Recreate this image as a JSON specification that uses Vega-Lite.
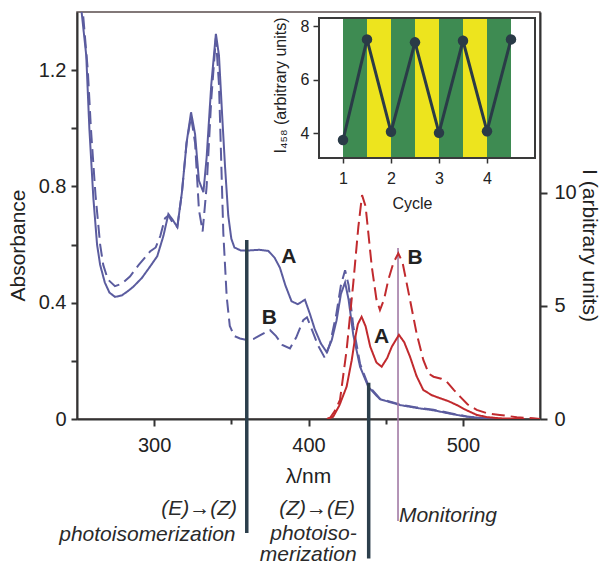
{
  "$schema": "https://vega.github.io/schema/vega-lite/v6.json",
  "width": 463,
  "height": 407,
  "autosize": {"type": "none"},
  "padding": {"left": 77, "top": 12, "right": 61, "bottom": 147},
  "background": "white",
  "config": {
    "font": "Liberation Sans",
    "view": {"stroke": "#5a4c4c", "strokeWidth": 1.5},
    "axis": {
      "grid": false,
      "domainColor": "#333333",
      "domainWidth": 2,
      "tickColor": "#333333",
      "tickWidth": 2,
      "labelColor": "#222222",
      "titleColor": "#222222",
      "labelFontSize": 20,
      "titleFontSize": 21,
      "titleFontWeight": "normal",
      "labelFont": "Liberation Sans",
      "titleFont": "Liberation Sans"
    }
  },
  "datasets": {
    "absorbance": [
      {"nm": 252, "abs": 1.45, "sample": "A"}, {"nm": 256, "abs": 1.25, "sample": "A"}, {"nm": 258, "abs": 1.0, "sample": "A"},
      {"nm": 260.6, "abs": 0.76, "sample": "A"}, {"nm": 263, "abs": 0.6, "sample": "A"}, {"nm": 265, "abs": 0.53, "sample": "A"},
      {"nm": 268, "abs": 0.47, "sample": "A"}, {"nm": 271, "abs": 0.435, "sample": "A"}, {"nm": 274.6, "abs": 0.42, "sample": "A"},
      {"nm": 279, "abs": 0.425, "sample": "A"}, {"nm": 283, "abs": 0.44, "sample": "A"}, {"nm": 286.5, "abs": 0.455, "sample": "A"},
      {"nm": 292, "abs": 0.485, "sample": "A"}, {"nm": 297.3, "abs": 0.524, "sample": "A"}, {"nm": 302, "abs": 0.56, "sample": "A"},
      {"nm": 306, "abs": 0.63, "sample": "A"}, {"nm": 309.2, "abs": 0.705, "sample": "A"}, {"nm": 312, "abs": 0.685, "sample": "A"},
      {"nm": 315, "abs": 0.66, "sample": "A"}, {"nm": 318, "abs": 0.78, "sample": "A"}, {"nm": 321, "abs": 0.95, "sample": "A"},
      {"nm": 323.9, "abs": 1.055, "sample": "A"}, {"nm": 326.5, "abs": 0.98, "sample": "A"}, {"nm": 329, "abs": 0.82, "sample": "A"},
      {"nm": 331.9, "abs": 0.78, "sample": "A"}, {"nm": 334, "abs": 0.9, "sample": "A"}, {"nm": 337, "abs": 1.15, "sample": "A"},
      {"nm": 340, "abs": 1.325, "sample": "A"}, {"nm": 342, "abs": 1.25, "sample": "A"}, {"nm": 344, "abs": 1.05, "sample": "A"},
      {"nm": 345.9, "abs": 0.87, "sample": "A"}, {"nm": 348, "abs": 0.7, "sample": "A"}, {"nm": 350, "abs": 0.62, "sample": "A"},
      {"nm": 352, "abs": 0.59, "sample": "A"}, {"nm": 356, "abs": 0.58, "sample": "A"}, {"nm": 362, "abs": 0.58, "sample": "A"},
      {"nm": 368, "abs": 0.582, "sample": "A"}, {"nm": 374, "abs": 0.578, "sample": "A"}, {"nm": 378, "abs": 0.555, "sample": "A"},
      {"nm": 381.5, "abs": 0.52, "sample": "A"}, {"nm": 385, "abs": 0.46, "sample": "A"}, {"nm": 389, "abs": 0.405, "sample": "A"},
      {"nm": 393, "abs": 0.395, "sample": "A"}, {"nm": 397.7, "abs": 0.41, "sample": "A"}, {"nm": 401, "abs": 0.36, "sample": "A"},
      {"nm": 404, "abs": 0.31, "sample": "A"}, {"nm": 408, "abs": 0.26, "sample": "A"}, {"nm": 411.8, "abs": 0.23, "sample": "A"},
      {"nm": 415, "abs": 0.27, "sample": "A"}, {"nm": 418.2, "abs": 0.34, "sample": "A"}, {"nm": 421, "abs": 0.43, "sample": "A"},
      {"nm": 423.7, "abs": 0.47, "sample": "A"}, {"nm": 426, "abs": 0.41, "sample": "A"}, {"nm": 429, "abs": 0.29, "sample": "A"},
      {"nm": 433.4, "abs": 0.18, "sample": "A"}, {"nm": 438.8, "abs": 0.11, "sample": "A"}, {"nm": 446.3, "abs": 0.068, "sample": "A"},
      {"nm": 459.3, "abs": 0.048, "sample": "A"}, {"nm": 470, "abs": 0.038, "sample": "A"}, {"nm": 481, "abs": 0.03, "sample": "A"},
      {"nm": 492, "abs": 0.018, "sample": "A"}, {"nm": 502.5, "abs": 0.008, "sample": "A"}, {"nm": 515, "abs": 0.002, "sample": "A"},
      {"nm": 525, "abs": 0, "sample": "A"},
      {"nm": 253, "abs": 1.45, "sample": "B"}, {"nm": 257, "abs": 1.2, "sample": "B"}, {"nm": 259, "abs": 1.0, "sample": "B"},
      {"nm": 262, "abs": 0.77, "sample": "B"}, {"nm": 265, "abs": 0.6, "sample": "B"}, {"nm": 267, "abs": 0.53, "sample": "B"},
      {"nm": 270, "abs": 0.48, "sample": "B"}, {"nm": 274.6, "abs": 0.457, "sample": "B"}, {"nm": 279, "abs": 0.465, "sample": "B"},
      {"nm": 284.3, "abs": 0.49, "sample": "B"}, {"nm": 290, "abs": 0.53, "sample": "B"}, {"nm": 297.3, "abs": 0.576, "sample": "B"},
      {"nm": 301, "abs": 0.59, "sample": "B"}, {"nm": 304, "abs": 0.63, "sample": "B"}, {"nm": 307, "abs": 0.69, "sample": "B"},
      {"nm": 309.2, "abs": 0.7, "sample": "B"}, {"nm": 312, "abs": 0.675, "sample": "B"}, {"nm": 315, "abs": 0.66, "sample": "B"},
      {"nm": 318, "abs": 0.78, "sample": "B"}, {"nm": 321, "abs": 0.95, "sample": "B"}, {"nm": 323.9, "abs": 1.04, "sample": "B"},
      {"nm": 326.5, "abs": 0.95, "sample": "B"}, {"nm": 329, "abs": 0.72, "sample": "B"}, {"nm": 331.4, "abs": 0.645, "sample": "B"},
      {"nm": 334, "abs": 0.8, "sample": "B"}, {"nm": 337, "abs": 1.1, "sample": "B"}, {"nm": 340, "abs": 1.31, "sample": "B"},
      {"nm": 342, "abs": 1.15, "sample": "B"}, {"nm": 344.8, "abs": 0.64, "sample": "B"}, {"nm": 347, "abs": 0.42, "sample": "B"},
      {"nm": 349, "abs": 0.32, "sample": "B"}, {"nm": 352, "abs": 0.285, "sample": "B"}, {"nm": 355.6, "abs": 0.277, "sample": "B"},
      {"nm": 360, "abs": 0.272, "sample": "B"}, {"nm": 364.2, "abs": 0.275, "sample": "B"}, {"nm": 370, "abs": 0.292, "sample": "B"},
      {"nm": 375, "abs": 0.306, "sample": "B"}, {"nm": 379, "abs": 0.285, "sample": "B"}, {"nm": 383, "abs": 0.255, "sample": "B"},
      {"nm": 388, "abs": 0.243, "sample": "B"}, {"nm": 392, "abs": 0.28, "sample": "B"}, {"nm": 396.6, "abs": 0.34, "sample": "B"},
      {"nm": 399, "abs": 0.35, "sample": "B"}, {"nm": 402, "abs": 0.31, "sample": "B"}, {"nm": 406, "abs": 0.255, "sample": "B"},
      {"nm": 410.7, "abs": 0.209, "sample": "B"}, {"nm": 414, "abs": 0.26, "sample": "B"}, {"nm": 418, "abs": 0.36, "sample": "B"},
      {"nm": 421, "abs": 0.46, "sample": "B"}, {"nm": 423.7, "abs": 0.512, "sample": "B"}, {"nm": 426, "abs": 0.46, "sample": "B"},
      {"nm": 429, "abs": 0.32, "sample": "B"}, {"nm": 433.4, "abs": 0.19, "sample": "B"}, {"nm": 438.8, "abs": 0.115, "sample": "B"},
      {"nm": 446.3, "abs": 0.07, "sample": "B"}, {"nm": 459.3, "abs": 0.05, "sample": "B"}, {"nm": 470, "abs": 0.04, "sample": "B"},
      {"nm": 481, "abs": 0.032, "sample": "B"}, {"nm": 492, "abs": 0.02, "sample": "B"}, {"nm": 502.5, "abs": 0.009, "sample": "B"},
      {"nm": 515, "abs": 0.002, "sample": "B"}, {"nm": 525, "abs": 0, "sample": "B"}
    ],
    "emission": [
      {"nm": 412, "intensity": 0, "sample": "A"}, {"nm": 416, "intensity": 0.1, "sample": "A"}, {"nm": 420, "intensity": 0.6, "sample": "A"},
      {"nm": 424.7, "intensity": 1.43, "sample": "A"}, {"nm": 428, "intensity": 2.6, "sample": "A"}, {"nm": 430, "intensity": 3.5, "sample": "A"},
      {"nm": 432, "intensity": 4.2, "sample": "A"}, {"nm": 434.4, "intensity": 4.52, "sample": "A"}, {"nm": 437, "intensity": 4.1, "sample": "A"},
      {"nm": 440, "intensity": 3.2, "sample": "A"}, {"nm": 444, "intensity": 2.5, "sample": "A"}, {"nm": 447.4, "intensity": 2.31, "sample": "A"},
      {"nm": 451, "intensity": 2.7, "sample": "A"}, {"nm": 454, "intensity": 3.2, "sample": "A"}, {"nm": 458.6, "intensity": 3.72, "sample": "A"},
      {"nm": 462, "intensity": 3.4, "sample": "A"}, {"nm": 465.8, "intensity": 2.75, "sample": "A"}, {"nm": 470, "intensity": 1.9, "sample": "A"},
      {"nm": 474.4, "intensity": 1.28, "sample": "A"}, {"nm": 480, "intensity": 1.05, "sample": "A"}, {"nm": 485.2, "intensity": 0.92, "sample": "A"},
      {"nm": 491, "intensity": 0.78, "sample": "A"}, {"nm": 496, "intensity": 0.62, "sample": "A"}, {"nm": 502, "intensity": 0.4, "sample": "A"},
      {"nm": 509, "intensity": 0.18, "sample": "A"}, {"nm": 516, "intensity": 0.08, "sample": "A"}, {"nm": 524, "intensity": 0.03, "sample": "A"},
      {"nm": 540, "intensity": 0, "sample": "A"},
      {"nm": 412, "intensity": 0, "sample": "B"}, {"nm": 414, "intensity": 0.05, "sample": "B"}, {"nm": 417, "intensity": 0.35, "sample": "B"},
      {"nm": 420.4, "intensity": 0.84, "sample": "B"}, {"nm": 424.7, "intensity": 3.05, "sample": "B"}, {"nm": 429, "intensity": 6.0, "sample": "B"},
      {"nm": 432.3, "intensity": 8.5, "sample": "B"}, {"nm": 434.7, "intensity": 9.9, "sample": "B"}, {"nm": 437, "intensity": 9.4, "sample": "B"},
      {"nm": 441, "intensity": 6.74, "sample": "B"}, {"nm": 444, "intensity": 5.3, "sample": "B"}, {"nm": 446.3, "intensity": 4.82, "sample": "B"},
      {"nm": 449, "intensity": 5.3, "sample": "B"}, {"nm": 451.7, "intensity": 6.15, "sample": "B"}, {"nm": 455, "intensity": 6.9, "sample": "B"},
      {"nm": 458.2, "intensity": 7.33, "sample": "B"}, {"nm": 461, "intensity": 6.9, "sample": "B"}, {"nm": 465.8, "intensity": 5.26, "sample": "B"},
      {"nm": 470, "intensity": 3.8, "sample": "B"}, {"nm": 474.4, "intensity": 2.61, "sample": "B"}, {"nm": 478, "intensity": 2.0, "sample": "B"},
      {"nm": 481, "intensity": 1.87, "sample": "B"}, {"nm": 486, "intensity": 1.78, "sample": "B"}, {"nm": 489.6, "intensity": 1.65, "sample": "B"},
      {"nm": 494, "intensity": 1.3, "sample": "B"}, {"nm": 498.2, "intensity": 0.99, "sample": "B"}, {"nm": 503, "intensity": 0.65, "sample": "B"},
      {"nm": 509, "intensity": 0.4, "sample": "B"}, {"nm": 516, "intensity": 0.25, "sample": "B"}, {"nm": 524, "intensity": 0.18, "sample": "B"},
      {"nm": 535, "intensity": 0.08, "sample": "B"}, {"nm": 545.6, "intensity": 0.03, "sample": "B"}, {"nm": 550, "intensity": 0, "sample": "B"}
    ],
    "markers": [
      {"nm": 360, "top": 0.616, "bottom": -0.392, "role": "excitation"},
      {"nm": 439, "top": 0.125, "bottom": -0.48, "role": "excitation"},
      {"nm": 458, "top": 0.588, "bottom": -0.351, "role": "monitoring"}
    ],
    "notes": [
      {"nm": 353.7, "abs": -0.31, "note": "(E)→(Z)", "kind": "excitation"},
      {"nm": 352.7, "abs": -0.399, "note": "photoisomerization", "kind": "excitation"},
      {"nm": 430.1, "abs": -0.31, "note": "(Z)→(E)", "kind": "excitation"},
      {"nm": 431.2, "abs": -0.397, "note": "photoiso-", "kind": "excitation"},
      {"nm": 431.2, "abs": -0.468, "note": "merization", "kind": "excitation"},
      {"nm": 458.6, "abs": -0.334, "note": "Monitoring", "kind": "monitoring"}
    ],
    "absLabels": [
      {"nm": 387.2, "abs": 0.558, "label": "A"},
      {"nm": 374.6, "abs": 0.346, "label": "B"}
    ],
    "emLabels": [
      {"nm": 447.4, "intensity": 3.64, "label": "A"},
      {"nm": 469, "intensity": 7.1, "label": "B"}
    ],
    "stripes": [
      {"start": 1.0, "end": 1.5, "irradiation": "360 nm"},
      {"start": 1.5, "end": 2.0, "irradiation": "439 nm"},
      {"start": 2.0, "end": 2.5, "irradiation": "360 nm"},
      {"start": 2.5, "end": 3.0, "irradiation": "439 nm"},
      {"start": 3.0, "end": 3.5, "irradiation": "360 nm"},
      {"start": 3.5, "end": 4.0, "irradiation": "439 nm"},
      {"start": 4.0, "end": 4.5, "irradiation": "360 nm"}
    ],
    "cycles": [
      {"cycle": 1.0, "i458": 3.74}, {"cycle": 1.5, "i458": 7.5},
      {"cycle": 2.0, "i458": 4.05}, {"cycle": 2.5, "i458": 7.39},
      {"cycle": 3.0, "i458": 4.01}, {"cycle": 3.5, "i458": 7.45},
      {"cycle": 4.0, "i458": 4.07}, {"cycle": 4.5, "i458": 7.5}
    ]
  },
  "layer": [
    {
      "layer": [
        {
          "data": {"name": "absorbance"},
          "mark": {"type": "line", "clip": true, "strokeWidth": 2, "color": "#5b5c9f"},
          "encoding": {
            "x": {
              "field": "nm", "type": "quantitative",
              "scale": {"domain": [250, 550], "nice": false, "zero": false},
              "axis": {
                "orient": "bottom",
                "values": [300, 350, 400, 450, 500],
                "labelExpr": "datum.value % 100 === 0 ? datum.label : ''",
                "tickSize": {"condition": {"test": "datum.value % 100 === 0", "value": 7}, "value": 5},
                "labelPadding": 9,
                "labelFlush": false,
                "title": "λ/nm",
                "titleX": 231,
                "titleY": 57,
                "titleAlign": "center",
                "titleBaseline": "middle"
              }
            },
            "y": {
              "field": "abs", "type": "quantitative",
              "scale": {"domain": [0, 1.4], "nice": false},
              "axis": {
                "orient": "left",
                "values": [0, 0.2, 0.4, 0.6, 0.8, 1.0, 1.2],
                "labelExpr": "datum.value == 0 ? '0' : (round(datum.value * 10) % 4 == 0 ? format(datum.value, '.1f') : '')",
                "tickSize": 6,
                "labelPadding": 5,
                "title": "Absorbance",
                "titleX": -59,
                "titleY": 233,
                "titleAngle": 270,
                "titleAlign": "center",
                "titleBaseline": "middle"
              }
            },
            "strokeDash": {
              "field": "sample", "type": "nominal",
              "scale": {"domain": ["A", "B"], "range": [[1, 0], [13, 6]]},
              "legend": null
            }
          }
        },
        {
          "data": {"name": "markers"},
          "transform": [{"filter": "datum.role == 'excitation'"}],
          "mark": {"type": "rule", "color": "#2c3f4c", "strokeWidth": 3.5},
          "encoding": {
            "x": {"field": "nm", "type": "quantitative"},
            "y": {"field": "top", "type": "quantitative"},
            "y2": {"field": "bottom"}
          }
        },
        {
          "data": {"name": "markers"},
          "transform": [{"filter": "datum.role == 'monitoring'"}],
          "mark": {"type": "rule", "color": "#a27aa6", "strokeWidth": 1.6},
          "encoding": {
            "x": {"field": "nm", "type": "quantitative"},
            "y": {"field": "top", "type": "quantitative"},
            "y2": {"field": "bottom"}
          }
        },
        {
          "data": {"name": "notes"},
          "transform": [{"filter": "datum.kind == 'excitation'"}],
          "mark": {"type": "text", "align": "right", "baseline": "middle", "fontSize": 21, "fontStyle": "italic", "color": "#2a2a2a"},
          "encoding": {
            "x": {"field": "nm", "type": "quantitative"},
            "y": {"field": "abs", "type": "quantitative"},
            "text": {"field": "note"}
          }
        },
        {
          "data": {"name": "notes"},
          "transform": [{"filter": "datum.kind == 'monitoring'"}],
          "mark": {"type": "text", "align": "left", "baseline": "middle", "fontSize": 21, "fontStyle": "italic", "color": "#2a2a2a"},
          "encoding": {
            "x": {"field": "nm", "type": "quantitative"},
            "y": {"field": "abs", "type": "quantitative"},
            "text": {"field": "note"}
          }
        },
        {
          "data": {"name": "absLabels"},
          "mark": {"type": "text", "align": "center", "baseline": "middle", "fontSize": 21, "fontWeight": "bold", "color": "#222222"},
          "encoding": {
            "x": {"field": "nm", "type": "quantitative"},
            "y": {"field": "abs", "type": "quantitative"},
            "text": {"field": "label"}
          }
        }
      ]
    },
    {
      "layer": [
        {
          "data": {"name": "emission"},
          "mark": {"type": "line", "clip": true, "strokeWidth": 2, "color": "#c12a2e"},
          "encoding": {
            "x": {
              "field": "nm", "type": "quantitative",
              "scale": {"domain": [250, 550], "nice": false, "zero": false},
              "axis": null
            },
            "y": {
              "field": "intensity", "type": "quantitative",
              "scale": {"domain": [0, 18], "nice": false},
              "axis": {
                "orient": "right",
                "values": [0, 5, 10],
                "tickSize": 7,
                "labelPadding": 7,
                "title": "I (arbitrary units)",
                "titleX": 48,
                "titleY": 233,
                "titleAngle": 90,
                "titleAlign": "center",
                "titleBaseline": "middle"
              }
            },
            "strokeDash": {
              "field": "sample", "type": "nominal",
              "scale": {"domain": ["A", "B"], "range": [[1, 0], [13, 6]]},
              "legend": null
            }
          }
        },
        {
          "data": {"name": "emLabels"},
          "mark": {"type": "text", "align": "center", "baseline": "middle", "fontSize": 21, "fontWeight": "bold", "color": "#222222"},
          "encoding": {
            "x": {"field": "nm", "type": "quantitative", "axis": null},
            "y": {"field": "intensity", "type": "quantitative"},
            "text": {"field": "label"}
          }
        }
      ]
    },
    {
      "layer": [
        {
          "data": {"values": [{"panel": "inset"}]},
          "mark": {"type": "rect", "fill": "white", "strokeWidth": 0},
          "encoding": {
            "x": {
              "datum": 0.5, "type": "quantitative",
              "scale": {"domain": [0.5, 5], "range": [242, 458], "nice": false, "zero": false},
              "axis": {
                "orient": "bottom",
                "offset": -261,
                "values": [1, 2, 3, 4],
                "format": "d",
                "domain": false,
                "tickSize": 5,
                "tickWidth": 1.5,
                "labelFontSize": 16,
                "labelPadding": 7,
                "labelFlush": false,
                "title": "Cycle",
                "titleFontSize": 16,
                "titleX": 335,
                "titleY": 45,
                "titleAlign": "center",
                "titleBaseline": "middle"
              }
            },
            "x2": {"datum": 5},
            "y": {
              "datum": 3.07, "type": "quantitative",
              "scale": {"domain": [3.07, 8.3], "range": [146, 6], "nice": false, "zero": false},
              "axis": {
                "orient": "left",
                "offset": -242,
                "values": [4, 6, 8],
                "format": "d",
                "domain": false,
                "tickSize": 6,
                "tickWidth": 1.5,
                "labelFontSize": 16,
                "labelPadding": 4,
                "title": "I₄₅₈ (arbitrary units)",
                "titleFontSize": 16,
                "titleX": -39,
                "titleY": 73,
                "titleAngle": 270,
                "titleAlign": "center",
                "titleBaseline": "middle"
              }
            },
            "y2": {"datum": 8.3}
          }
        },
        {
          "data": {"name": "stripes"},
          "mark": {"type": "rect", "strokeWidth": 0},
          "encoding": {
            "x": {"field": "start", "type": "quantitative"},
            "x2": {"field": "end"},
            "y": {"datum": 3.07, "type": "quantitative"},
            "y2": {"datum": 8.3},
            "color": {
              "field": "irradiation", "type": "nominal",
              "scale": {"domain": ["360 nm", "439 nm"], "range": ["#3e8b52", "#ede41e"]},
              "legend": null
            }
          }
        },
        {
          "data": {"name": "cycles"},
          "mark": {"type": "line", "color": "#2a3b47", "strokeWidth": 3},
          "encoding": {
            "x": {"field": "cycle", "type": "quantitative"},
            "y": {"field": "i458", "type": "quantitative"}
          }
        },
        {
          "data": {"name": "cycles"},
          "mark": {"type": "point", "filled": true, "opacity": 1, "size": 110, "color": "#2a3b47"},
          "encoding": {
            "x": {"field": "cycle", "type": "quantitative"},
            "y": {"field": "i458", "type": "quantitative"}
          }
        },
        {
          "data": {"values": [{"panel": "inset"}]},
          "mark": {"type": "rect", "fill": null, "fillOpacity": 0, "stroke": "#3a3a3a", "strokeWidth": 2},
          "encoding": {
            "x": {"datum": 0.5, "type": "quantitative"},
            "x2": {"datum": 5},
            "y": {"datum": 3.07, "type": "quantitative"},
            "y2": {"datum": 8.3}
          }
        }
      ]
    }
  ],
  "resolve": {
    "scale": {"x": "independent", "y": "independent", "color": "independent", "strokeDash": "independent"},
    "axis": {"x": "independent", "y": "independent"}
  }
}
